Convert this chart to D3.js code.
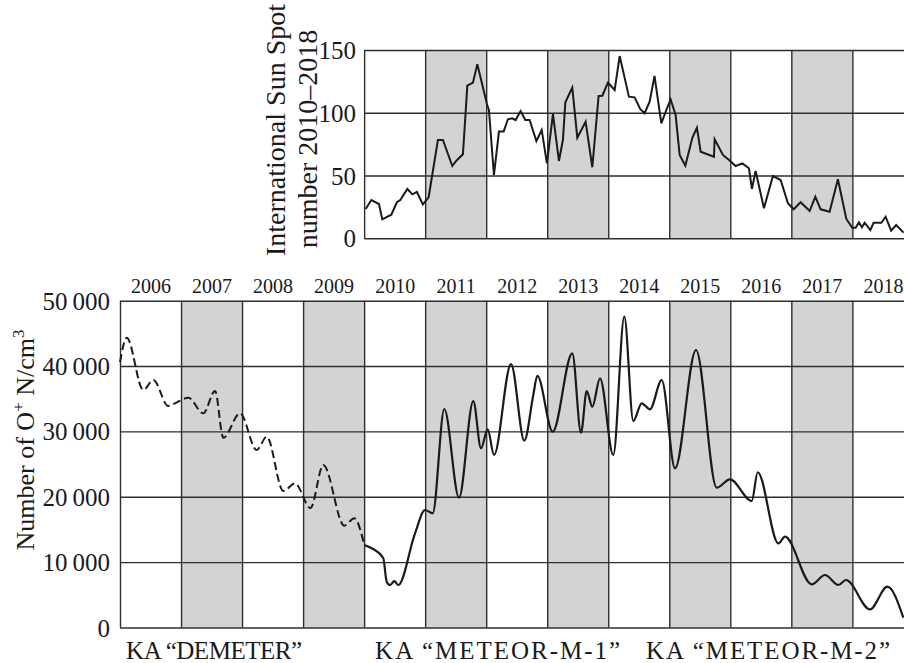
<!DOCTYPE html>
<html>
<head>
<meta charset="utf-8">
<script src="https://cdn.jsdelivr.net/npm/d3@7"></script>
<style>
  body { margin: 0; background: #fff; }
  svg { display: block; font-family: "Liberation Serif", "Times New Roman", serif; }
  .grid line { stroke: #2e2e2e; stroke-width: 1.4; }
  .grid path { display: none; }
  .grid text { fill: #1a1a1a; }
</style>
</head>
<body>
<svg width="904" height="663"></svg>
<script>
// year columns, shaded columns
const yearLabels = [2006, 2007, 2008, 2009, 2010, 2011, 2012, 2013, 2014, 2015, 2016, 2017, 2018];
const yearEdges = [2006, 2007, 2008, 2009, 2010, 2011, 2012, 2013, 2014, 2015, 2016, 2017, 2018];
const shadedYears = [2007, 2009, 2011, 2013, 2015, 2017];

const ionTicks = [0, 10000, 20000, 30000, 40000, 50000];
const sunTicks = [0, 50, 100, 150];

// international sun spot number
const sunYears = [2010.025, 2010.118, 2010.243, 2010.298, 2010.446, 2010.537, 2010.593, 2010.708, 2010.790, 2010.865,
  2010.963, 2011.057, 2011.209, 2011.291, 2011.445, 2011.511, 2011.619, 2011.691, 2011.783, 2011.855,
  2012.012, 2012.045, 2012.127, 2012.209, 2012.286, 2012.356, 2012.428, 2012.482, 2012.564, 2012.641,
  2012.712, 2012.822, 2012.910, 2012.995, 2013.094, 2013.192, 2013.257, 2013.297, 2013.411, 2013.493,
  2013.629, 2013.739, 2013.842, 2013.903, 2013.995, 2014.105, 2014.187, 2014.339, 2014.432, 2014.526,
  2014.596, 2014.678, 2014.758, 2014.870, 2014.952, 2015.022, 2015.104, 2015.170, 2015.263, 2015.378,
  2015.453, 2015.514, 2015.732, 2015.743, 2015.879, 2015.989, 2016.087, 2016.197, 2016.305, 2016.354,
  2016.415, 2016.551, 2016.698, 2016.825, 2016.944, 2017.038, 2017.152, 2017.300, 2017.393, 2017.480,
  2017.627, 2017.763, 2017.901, 2017.999, 2018.053, 2018.107, 2018.157, 2018.201, 2018.294, 2018.348,
  2018.474, 2018.545, 2018.635, 2018.718, 2018.838];
const sunSpots = [23.3, 30.5, 27.3, 15.1, 18.8, 28.7, 30.5, 39.3, 35, 36.9,
  27, 32.7, 78.3, 78.3, 57.6, 61.8, 66.9, 121.6, 124, 138.6,
  107, 102.2, 50.4, 85, 85, 94.8, 95.6, 94.2, 101.4, 94.2,
  94.2, 77.5, 86.3, 59.7, 99, 61.6, 78.3, 108.3, 120, 80.1,
  92.9, 56.6, 113.4, 113.6, 124, 118.1, 145.2, 112.8, 112.3, 102.8,
  99.6, 108.8, 129.3, 91.6, 102.2, 110.7, 98.2, 66.4, 57.8, 80.1,
  88.1, 69, 65, 78.9, 66.4, 62, 57.6, 59.7, 55.8, 39.3,
  53.6, 23.9, 49.6, 46.4, 27.9, 23.1, 28.7, 21.7, 33.1, 23.1,
  21.2, 47, 15.4, 8.4, 8.4, 12.7, 8.8, 12.4, 6.6, 12.4,
  12.4, 17.2, 6.1, 10.6, 4.5];

// O+ number, KA "DEMETER" (dashed)
const demeterYears = [2006.000, 2006.110, 2006.382, 2006.546, 2006.791, 2006.901, 2007.119, 2007.365, 2007.557, 2007.693,
  2007.966, 2008.240, 2008.404, 2008.676, 2008.867, 2009.121, 2009.331, 2009.675, 2009.839, 2010.003];
const demeterValues = [40600, 44340, 36340, 37870, 33890, 34300, 35160, 32770, 36190, 29040,
  32770, 27160, 29190, 20880, 22060, 18280, 24860, 15580, 16710, 12620];

// O+ number, KA "METEOR-M-1" / "METEOR-M-2" (solid)
const meteorYears = [2010.003, 2010.124, 2010.314, 2010.370, 2010.424, 2010.494, 2010.560, 2010.834, 2010.998, 2011.124,
  2011.314, 2011.555, 2011.789, 2011.915, 2012.025, 2012.128, 2012.407, 2012.625, 2012.772, 2012.838,
  2013.090, 2013.411, 2013.554, 2013.647, 2013.739, 2013.865, 2014.083, 2014.263, 2014.411, 2014.548,
  2014.684, 2014.876, 2015.094, 2015.438, 2015.777, 2015.995, 2016.351, 2016.449, 2016.787, 2016.896,
  2017.333, 2017.552, 2017.770, 2017.896, 2018.289, 2018.573, 2018.835];
const meteorValues = [12620, 12120, 10590, 7010, 6500, 7110, 6500, 14410, 17980, 17470,
  33430, 19860, 34650, 27420, 30320, 26390, 40310, 28580, 35570, 38520,
  29960, 41950, 29800, 36180, 33780, 38130, 26390, 47550, 31590, 34300,
  33380, 37870, 24360, 42460, 21390, 22670, 19350, 23750, 12880, 13890,
  6610, 8030, 6500, 7270, 2780, 6240, 1500];

const satLabels = ['KA \u201CDEMETER\u201D', 'KA \u201CMETEOR-M-1\u201D', 'KA \u201CMETEOR-M-2\u201D'];

// layout of the satellite labels (start year, drawn width)
const satLabelStart = [2006.1, 2010.18, 2014.62];
const satLabelWidth = [176, 245, 244];

const serif = '"Liberation Serif", "Times New Roman", serif';
const svg = d3.select('svg');
svg.append('rect').attr('width', 904).attr('height', 663).attr('fill', '#fff');

const x = d3.scaleLinear().domain([2006, 2019]).range([120, 913.4]);
const yIon = d3.scaleLinear().domain([0, 50000]).range([627.5, 300.7]);
const ySun = d3.scaleLinear().domain([0, 150]).range([238.3, 50]);

const fmtIon = (d) => d === 0 ? '0' : d3.format(',')(d).replace(',', '\u2009');

function drawPanel(y, startYear, ticks, fmt, pad) {
  const g = svg.append('g');
  const x0 = x(startYear), x1 = x(2019);
  const [yb, yt] = y.range();

  g.selectAll('rect.shade')
    .data(shadedYears.filter((d) => d >= startYear))
    .join('rect')
    .attr('x', (d) => x(d))
    .attr('width', (d) => x(d + 1) - x(d))
    .attr('y', yt)
    .attr('height', yb - yt)
    .attr('fill', '#d2d3d5');

  g.append('g')
    .attr('class', 'grid')
    .attr('transform', `translate(${x0},0)`)
    .call(d3.axisLeft(y).tickValues(ticks).tickSize(-(x1 - x0)).tickPadding(pad).tickFormat(fmt))
    .attr('font-family', serif)
    .attr('font-size', 25)
    .selectAll('text')
    .attr('dy', '0.34em');

  g.append('g')
    .attr('class', 'grid')
    .attr('transform', `translate(0,${yb})`)
    .call(d3.axisBottom(x).tickValues(yearEdges.filter((d) => d >= startYear)).tickSize(-(yb - yt)).tickFormat(''));
}

drawPanel(ySun, 2010, sunTicks, d3.format('d'), 8);
drawPanel(yIon, 2006, ionTicks, fmtIon, 10);

// year labels between the two panels
svg.append('g')
  .attr('class', 'grid')
  .attr('transform', 'translate(0,293)')
  .call(d3.axisTop(x).tickValues(yearLabels.map((d) => d + 0.5)).tickSize(0).tickPadding(0).tickFormat((d) => Math.floor(d)))
  .attr('font-family', serif)
  .attr('font-size', 20)
  .selectAll('text')
  .attr('dy', 0);

// series
const sunLine = d3.line().x((d) => x(d[0])).y((d) => ySun(d[1]));
svg.append('path')
  .attr('d', sunLine(d3.zip(sunYears, sunSpots)))
  .attr('fill', 'none').attr('stroke', '#1a1a1a').attr('stroke-width', 2);

const ionLine = d3.line().x((d) => x(d[0])).y((d) => yIon(d[1])).curve(d3.curveMonotoneX);
svg.append('path')
  .attr('d', ionLine(d3.zip(demeterYears, demeterValues)))
  .attr('fill', 'none').attr('stroke', '#1a1a1a').attr('stroke-width', 2)
  .attr('stroke-dasharray', '8,4');
svg.append('path')
  .attr('d', ionLine(d3.zip(meteorYears, meteorValues)))
  .attr('fill', 'none').attr('stroke', '#1a1a1a').attr('stroke-width', 2.2);

// axis titles
const ionTitle = svg.append('text')
  .attr('transform', 'translate(33.5,440) rotate(-90)')
  .attr('text-anchor', 'middle')
  .attr('font-size', 26)
  .attr('fill', '#1a1a1a');
ionTitle.append('tspan').text('Number of O');
ionTitle.append('tspan').attr('dy', -10).attr('font-size', 17).text('+');
ionTitle.append('tspan').attr('dy', 10).text(' N/cm');
ionTitle.append('tspan').attr('dy', -10).attr('font-size', 17).text('3');

svg.append('text')
  .attr('transform', 'translate(285,130) rotate(-90)')
  .attr('text-anchor', 'middle')
  .attr('font-size', 28)
  .attr('fill', '#1a1a1a')
  .text('International Sun Spot');
svg.append('text')
  .attr('transform', 'translate(316.5,139) rotate(-90)')
  .attr('text-anchor', 'middle')
  .attr('font-size', 28)
  .attr('fill', '#1a1a1a')
  .text('number 2010\u20132018');

// satellite labels
svg.selectAll('text.sat')
  .data(satLabels)
  .join('text')
  .attr('class', 'sat')
  .attr('x', (d, i) => x(satLabelStart[i]))
  .attr('y', 659)
  .attr('font-size', 25)
  .attr('textLength', (d, i) => satLabelWidth[i])
  .attr('lengthAdjust', 'spacing')
  .attr('fill', '#1a1a1a')
  .text((d) => d);
</script>
</body>
</html>
